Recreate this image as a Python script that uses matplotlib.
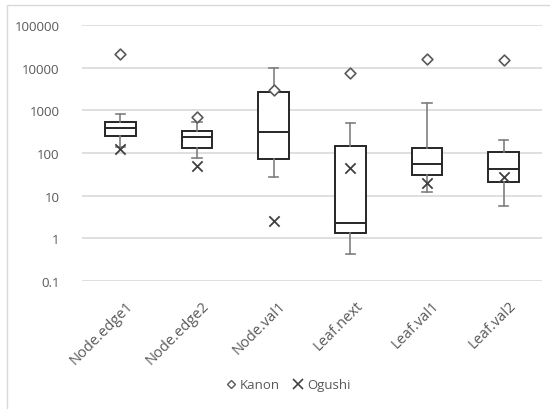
import numpy as np
import matplotlib
matplotlib.use('Agg')
import matplotlib.pyplot as plt
import matplotlib.transforms as mtransforms
from matplotlib.patches import Rectangle
from matplotlib.lines import Line2D

# box plot stats (log scale)
categories = ['Node.edge1', 'Node.edge2', 'Node.val1', 'Leaf.next', 'Leaf.val1', 'Leaf.val2']
whis_lo = [138, 76, 27, 0.42, 12.5, 5.8]
q1 = [252, 130, 71, 1.3, 30, 21]
median = [383, 233, 313, 2.3, 54, 43]
q3 = [540, 330, 2700, 145, 132, 107]
whis_hi = [810, 525, 10000, 500, 1450, 200]

kanon = [21000, 690, 2950, 7300, 15800, 15000]
ogushi = [123, 50, 2.6, 45, 20, 28]

ytick_vals = [0.1, 1, 10, 100, 1000, 10000, 100000]
ytick_labels = ['0.1', '1', '10', '100', '1000', '10000', '100000']

plt.rcParams['font.family'] = ['Open Sans', 'DejaVu Sans']
grey = '#595959'

fig = plt.figure(figsize=(5.5, 4.1), dpi=100)
fig.patches.append(Rectangle((7 / 550, -0.1), 1.2, (410 - 6) / 410 + 0.1,
                             transform=fig.transFigure, fill=False,
                             edgecolor='#d9d9d9', lw=1))
ax = fig.add_axes([82 / 550, 1 - 282 / 410, 460 / 550, 256 / 410])

stats = []
for i in range(len(categories)):
    stats.append(dict(whislo=whis_lo[i], q1=q1[i], med=median[i], q3=q3[i],
                      whishi=whis_hi[i], fliers=[]))

pos = np.arange(len(categories))
ax.bxp(stats, positions=pos, widths=0.4, patch_artist=True,
       boxprops=dict(facecolor='white', edgecolor='#262626', lw=1.4),
       medianprops=dict(color='#262626', lw=1.4),
       whiskerprops=dict(color='#7f7f7f', lw=1.2),
       capprops=dict(color='#7f7f7f', lw=1.2), capwidths=0.12,
       zorder=3)

ax.scatter(pos, kanon, marker='D', s=30, facecolor='white',
           edgecolor='#595959', lw=1.2, zorder=4)
ax.scatter(pos, ogushi, marker='x', s=55, color='#404040', lw=1.3, zorder=5)

ax.set_yscale('log')
ax.set_ylim(0.1, 100000)
ax.set_xlim(-0.5, len(categories) - 0.5)
ax.set_yticks(ytick_vals)
ax.set_yticklabels(ytick_labels)
ax.yaxis.set_minor_locator(matplotlib.ticker.NullLocator())
ax.set_xticks(pos)
ax.set_xticklabels(categories, rotation=45, ha='right', rotation_mode='anchor')
ax.tick_params(axis='both', length=0, colors=grey, labelsize=9.5)
ax.tick_params(axis='x', labelsize=10.5, pad=12)
ax.tick_params(axis='y', pad=16)
# nudge the rotated labels a bit to the right, like Excel does
offset = mtransforms.ScaledTranslation(5 / 100, 0, fig.dpi_scale_trans)
for lbl in ax.get_xticklabels():
    lbl.set_transform(lbl.get_transform() + offset)
ax.grid(axis='y', color='#d9d9d9', lw=1.2, zorder=0)
ax.set_axisbelow(True)
for s in ax.spines.values():
    s.set_visible(False)

handles = [Line2D([], [], marker='D', ls='none', markersize=4.5,
                  markerfacecolor='white', markeredgecolor='#595959'),
           Line2D([], [], marker='x', ls='none', markersize=7,
                  color='#404040', markeredgewidth=1.2)]
fig.legend(handles, ['Kanon', 'Ogushi'], loc='center', ncol=2,
           bbox_to_anchor=(288 / 550, 1 - 386 / 410), frameon=False,
           handlelength=0.8, handletextpad=0.25, columnspacing=1.0,
           labelcolor=grey, fontsize=9.5)

fig.savefig('out.png', dpi=100)
